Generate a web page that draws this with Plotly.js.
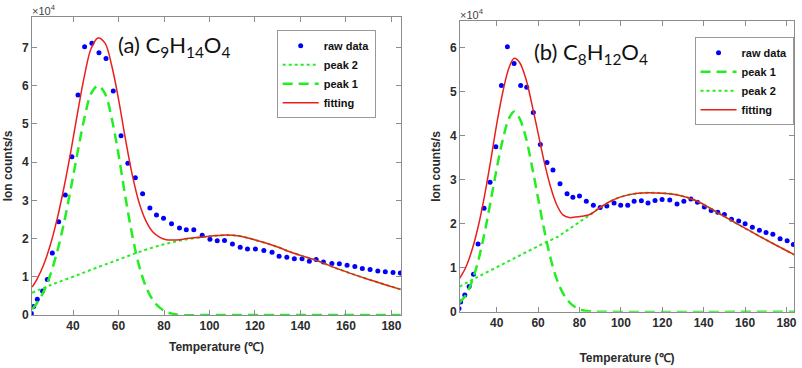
<!DOCTYPE html>
<html>
<head>
<meta charset="utf-8">
<script src="https://cdn.plot.ly/plotly-3.0.1.min.js"></script>
<style>
  body { margin: 0; background: #fff; }
  #myDiv { width: 802px; height: 368px; }
</style>
</head>
<body>
<div id="myDiv"></div>
<script>
// all counts in units of 1e4 ions/s (axis shows x10^4)

// ---- (a) C9H14O4 ----
var rawA_T = [21.7,22.7,24.3,26.6,28.7,30.9,33.7,36.6,39.5,42.2,45.1,48.3,51.4,54.5,57.7,61.1,64.1,67.4,70.6,73.8,76.7,79.8,83.3,86.8,89.8,93.1,96.8,100.2,103.4,106.6,110.1,113.5,116.7,120.2,123.9,127.5,130.6,134.0,137.3,140.7,143.9,146.9,150.1,153.8,157.1,160.5,163.9,167.2,170.6,174.0,177.3,180.7,183.9];
var rawA = [0.04,0.22,0.41,0.63,0.93,1.62,2.44,3.14,4.14,5.76,7.02,7.11,6.86,6.71,5.86,4.69,3.97,3.59,3.17,2.80,2.62,2.53,2.39,2.28,2.23,2.23,2.09,1.98,1.94,1.95,1.86,1.77,1.73,1.73,1.69,1.64,1.54,1.51,1.47,1.47,1.41,1.45,1.39,1.35,1.34,1.30,1.27,1.22,1.19,1.15,1.13,1.11,1.10];

var peak1A_T = [22,24,27,30,33,36,39,42,45,48,51,54,57,60,63,66,69,72,75,78,81,84,87,100,184];
var peak1A = [0.15,0.3,0.6,1.05,1.65,2.4,3.3,4.25,5.15,5.8,6.0,5.8,5.15,4.2,3.1,2.1,1.3,0.75,0.4,0.2,0.08,0.03,0,0,0];

var peak2A_T = [22,30,40,50,60,70,80,90,100,106,113,122,130,135,140,147,155,162,170,178,184];
var peak2A = [0.58,0.78,1.0,1.23,1.45,1.67,1.85,1.98,2.06,2.09,2.07,1.93,1.78,1.66,1.56,1.43,1.24,1.09,0.93,0.78,0.67];

var fitA_T = [22,24,27,30,33,36,39,42,45,48,51,54,57,60,63,66,69,72,75,78,81,84,87,90,100,106,113,122,130,135,140,147,155,162,170,178,184];
var fitA = [0.73,0.92,1.3,1.83,2.51,3.33,4.27,5.29,6.25,6.98,7.25,7.12,6.53,5.65,4.62,3.68,2.95,2.47,2.18,2.04,1.97,1.96,1.97,2.0,2.06,2.09,2.07,1.93,1.78,1.66,1.56,1.43,1.24,1.09,0.93,0.78,0.67];

// ---- (b) C8H12O4 ----
var rawB_T = [21.8,22.6,24.6,26.7,28.8,31.0,33.9,36.8,39.6,42.3,45.2,48.4,51.6,54.5,57.7,61.1,64.3,67.2,70.6,74.0,76.8,80.0,83.3,86.7,90.0,93.2,96.7,99.9,103.3,106.4,109.9,113.1,116.5,119.9,123.6,127.1,130.4,133.8,137.0,140.3,143.6,146.8,150.0,153.4,156.9,160.0,163.5,166.9,170.1,173.4,176.9,180.3,183.3];
var rawB = [0.07,0.22,0.38,0.57,0.85,1.54,2.35,2.94,3.75,5.14,6.02,5.64,5.14,5.10,4.53,3.80,3.39,3.22,2.91,2.68,2.60,2.63,2.51,2.42,2.37,2.40,2.47,2.42,2.42,2.51,2.52,2.47,2.53,2.55,2.54,2.45,2.51,2.56,2.49,2.38,2.30,2.26,2.21,2.10,2.06,2.00,1.92,1.85,1.80,1.76,1.66,1.61,1.53];

var peak1B_T = [22,25,28,31,34,37,40,43,46,48.5,51,54,57,60,63,66,69,72,75,78,81,85,90,184];
var peak1B = [0.2,0.37,0.68,1.14,1.76,2.49,3.25,3.92,4.4,4.55,4.4,3.98,3.32,2.58,1.85,1.22,0.74,0.42,0.22,0.1,0.04,0.01,0,0];

var peak2B_T = [22,30,40,50,60,70,75,80,85,90,95,100,108,117,127,137,146,156,166,175,184];
var peak2B = [0.57,0.77,1.01,1.25,1.49,1.72,1.88,2.04,2.2,2.37,2.51,2.61,2.69,2.70,2.66,2.51,2.27,2.0,1.74,1.51,1.29];

var fitB_T = [22,25,28,31,34,37,40,43,46,48.5,51,54,57,60,63,66,69,72,75,78,81,85,90,95,100,108,117,127,137,146,156,166,175,184];
var fitB = [0.75,1.0,1.39,1.92,2.6,3.4,4.26,5.0,5.55,5.76,5.67,5.31,4.72,4.06,3.4,2.84,2.43,2.2,2.14,2.15,2.17,2.21,2.37,2.51,2.61,2.69,2.70,2.66,2.51,2.27,2.0,1.74,1.51,1.29];

var xTicks = [40,60,80,100,120,140,160,180];

var blue = '#0000ff', red = '#e8201c', green = '#22ee22';
var gray = '#8c8c8c', tickc = '#2b2b2b';

function rawTrace(x, y, xa, ya, lg) {
  return {x: x, y: y, xaxis: xa, yaxis: ya, legend: lg, name: 'raw data', type: 'scatter', mode: 'markers',
          marker: {color: blue, size: 5}};
}
function peak1Trace(x, y, xa, ya, lg) {
  return {x: x, y: y, xaxis: xa, yaxis: ya, legend: lg, name: 'peak 1', type: 'scatter', mode: 'lines',
          line: {color: green, width: 2.5, dash: '10px,6px', shape: 'spline'}};
}
function peak2Trace(x, y, xa, ya, lg) {
  return {x: x, y: y, xaxis: xa, yaxis: ya, legend: lg, name: 'peak 2', type: 'scatter', mode: 'lines',
          line: {color: green, width: 2, dash: 'dot', shape: 'spline'}};
}
function fitTrace(x, y, xa, ya, lg) {
  return {x: x, y: y, xaxis: xa, yaxis: ya, legend: lg, name: 'fitting', type: 'scatter', mode: 'lines',
          line: {color: red, width: 1.5, shape: 'spline'}};
}

var data = [
  // legend order (a): raw data, peak 2, peak 1, fitting
  rawTrace(rawA_T, rawA, 'x', 'y', 'legend'),
  peak2Trace(peak2A_T, peak2A, 'x', 'y', 'legend'),
  peak1Trace(peak1A_T, peak1A, 'x', 'y', 'legend'),
  fitTrace(fitA_T, fitA, 'x', 'y', 'legend'),
  // legend order (b): raw data, peak 1, peak 2, fitting
  rawTrace(rawB_T, rawB, 'x2', 'y2', 'legend2'),
  peak1Trace(peak1B_T, peak1B, 'x2', 'y2', 'legend2'),
  peak2Trace(peak2B_T, peak2B, 'x2', 'y2', 'legend2'),
  fitTrace(fitB_T, fitB, 'x2', 'y2', 'legend2')
];

var tickFont = {family: 'Arial, Liberation Sans, sans-serif', size: 12, color: tickc, weight: 'bold'};
var titleFont = {family: 'Arial, Liberation Sans, sans-serif', size: 12, color: tickc, weight: 'bold'};

function xax(dom, standoff) {
  return {domain: dom, range: [22, 184.2], tickvals: xTicks, ticks: 'inside', ticklen: 5, tickcolor: gray,
          showline: true, linecolor: gray, linewidth: 1, mirror: 'ticks', showgrid: false, zeroline: false,
          tickfont: tickFont, title: {text: 'Temperature (℃)', font: titleFont, standoff: standoff}};
}
function yax(dom, top, xa) {
  return {domain: dom, range: [0, top], dtick: 1, ticks: 'inside', ticklen: 5, tickcolor: gray, anchor: xa,
          showline: true, linecolor: gray, linewidth: 1, mirror: 'ticks', showgrid: false, zeroline: false,
          tickfont: tickFont, title: {text: 'Ion counts/s', font: titleFont, standoff: 6}};
}

var legFont = {family: 'Arial, Liberation Sans, sans-serif', size: 11, color: '#111', weight: 'bold'};

var layout = {
  width: 802, height: 368,
  margin: {l: 0, r: 0, t: 0, b: 0},
  paper_bgcolor: '#fff', plot_bgcolor: '#fff',
  xaxis: xax([0.040, 0.500], 10),
  yaxis: yax([0.144, 0.954], 7.8, 'x'),
  xaxis2: Object.assign(xax([0.5736, 0.990], 24), {anchor: 'y2', range: [22.3, 183.6]}),
  yaxis2: yax([0.153, 0.942], 6.6, 'x2'),
  legend: {x: 0.345, y: 0.918, xanchor: 'left', yanchor: 'top', bgcolor: '#fff', bordercolor: '#999', borderwidth: 1,
           font: legFont, tracegroupgap: 0, itemwidth: 36},
  legend2: {x: 0.866, y: 0.899, xanchor: 'left', yanchor: 'top', bgcolor: '#fff', bordercolor: '#999', borderwidth: 1,
            font: legFont, tracegroupgap: 0, itemwidth: 36},
  showlegend: true,
  annotations: [
    {xref: 'paper', yref: 'paper', x: 0.038, y: 0.972, xanchor: 'left', yanchor: 'middle', showarrow: false,
     text: '×10<sup>4</sup>', font: {family: 'Arial', size: 11, color: '#444'}},
    {xref: 'paper', yref: 'paper', x: 0.5716, y: 0.961, xanchor: 'left', yanchor: 'middle', showarrow: false,
     text: '×10<sup>4</sup>', font: {family: 'Arial', size: 11, color: '#444'}},
    {xref: 'paper', yref: 'paper', x: 0.145, y: 0.875, xanchor: 'left', yanchor: 'middle', showarrow: false,
     text: '(a) C<sub>9</sub>H<sub>14</sub>O<sub>4</sub>', font: {family: 'Lato, Open Sans, sans-serif', size: 22, color: '#111'}},
    {xref: 'paper', yref: 'paper', x: 0.663, y: 0.855, xanchor: 'left', yanchor: 'middle', showarrow: false,
     text: '(b) C<sub>8</sub>H<sub>12</sub>O<sub>4</sub>', font: {family: 'Lato, Open Sans, sans-serif', size: 22, color: '#111'}}
  ]
};

Plotly.newPlot('myDiv', data, layout, {displayModeBar: false, staticPlot: true});
</script>
</body>
</html>
